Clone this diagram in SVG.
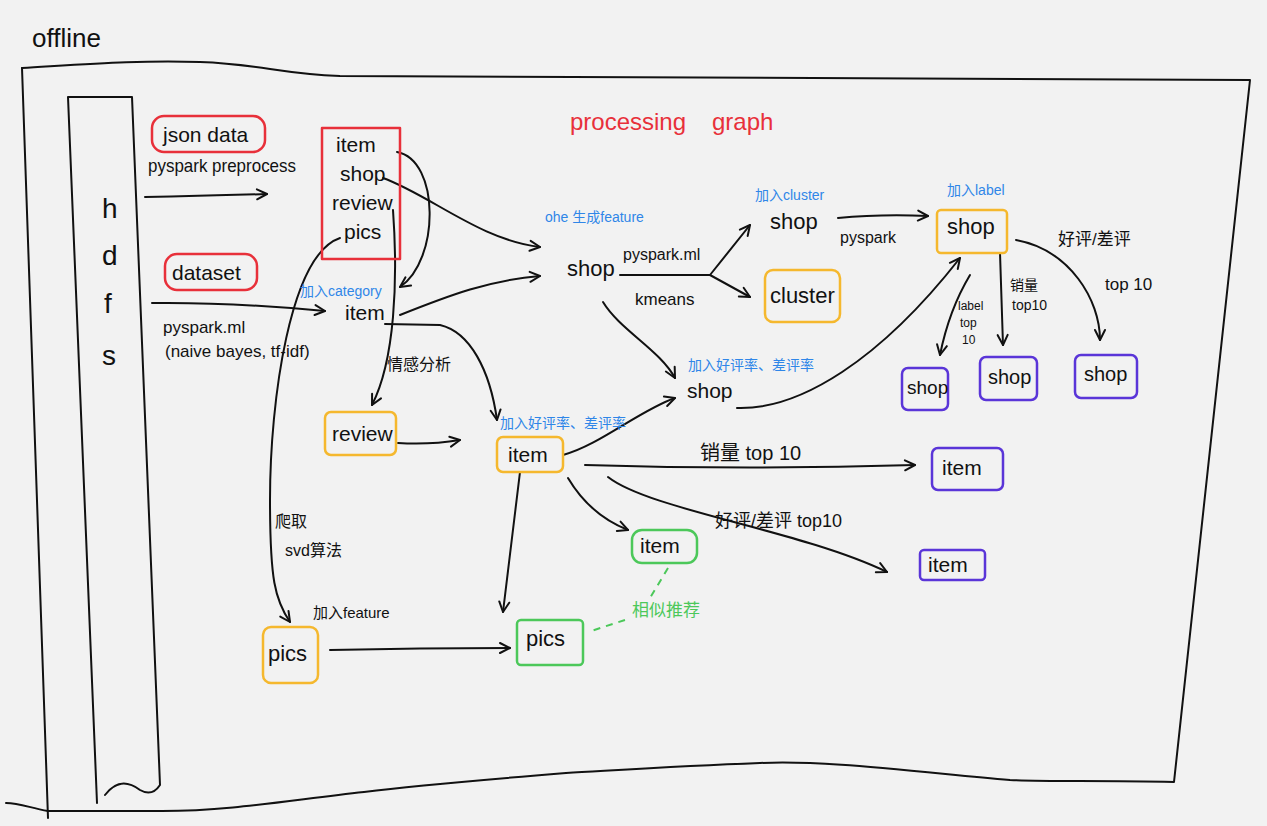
<svg xmlns="http://www.w3.org/2000/svg" width="1267" height="826" viewBox="0 0 1267 826">
<defs>
<marker id="arr" markerUnits="userSpaceOnUse" markerWidth="14" markerHeight="14" viewBox="0 0 14 14" refX="12" refY="7" orient="auto">
<path d="M2,2 L12,7 L2,12" fill="none" stroke="#111" stroke-width="2" stroke-linecap="round" stroke-linejoin="round"/>
</marker>
</defs>
<style>
.bg{fill:#f2f2f2}
.ln{fill:none;stroke:#111;stroke-width:2;stroke-linecap:round;stroke-linejoin:round}
.ar{fill:none;stroke:#111;stroke-width:2;stroke-linecap:round;marker-end:url(#arr)}
.bx{fill:none;stroke-width:2.5;stroke-linejoin:round}
.red{stroke:#e8303a}.yel{stroke:#f5b82e}.grn{stroke:#4cc85a}.pur{stroke:#5a35d8}
.t{font-family:"Liberation Sans",Arial,sans-serif;fill:#111}
.n{font-size:21px}
.s{font-size:17px}
.xs{font-size:12px}
.bl{font-family:"Liberation Sans","Noto Sans CJK SC",sans-serif;fill:#2f86e8;font-size:14px}
.zh{font-family:"Liberation Sans","Noto Sans CJK SC",sans-serif;fill:#111}
.gz{font-family:"Noto Sans CJK SC",sans-serif;fill:#4cc85a;font-size:17px}
</style>
<rect class="bg" x="0" y="0" width="1267" height="826"/>

<g id="frame">
<path class="ln" d="M22,68 C90,64 140,60 200,62 C260,64 280,74 340,76 C600,80 900,76 1250,80 L1174,782 C1100,780 1050,782 1010,780 C900,770 820,760 760,763 C680,766 620,770 566,773 C480,780 420,785 364,792 C290,800 230,811 162,811 L48,811 C30,808 20,803 6,803"/>
<path class="ln" d="M22,68 L48,818"/>
<text class="t" x="32" y="47" font-size="26">offline</text>
</g>

<g id="hdfs">
<path class="ln" d="M68,97 L132,97 M68,97 L97,803 M132,97 L160,785 M105,795 Q120,775 140,790 Q152,797 160,785"/>
<text class="t" x="102" y="218" font-size="28">h</text>
<text class="t" x="102" y="265" font-size="28">d</text>
<text class="t" x="104" y="313" font-size="28">f</text>
<text class="t" x="102" y="365" font-size="28">s</text>
</g>

<g id="title">
<text x="570" y="130" font-family="Liberation Sans,Arial,sans-serif" font-size="24" fill="#e8303a">processing</text>
<text x="712" y="130" font-family="Liberation Sans,Arial,sans-serif" font-size="24" fill="#e8303a">graph</text>
</g>

<g id="connectors">
<path class="ar" d="M145,197 Q200,196 267,194"/>
<path class="ar" d="M152,303 Q230,302 325,311"/>
<path class="ar" d="M397,152 C440,160 440,260 400,287"/>
<path class="ar" d="M383,178 C430,195 480,240 540,247"/>
<path class="ar" d="M393,210 C398,280 395,360 372,405"/>
<path class="ar" d="M340,238 C290,255 270,400 270,500 C270,580 275,600 290,622"/>
<path class="ar" d="M400,315 C450,295 490,280 540,276"/>
<path class="ar" d="M385,324 L440,325 C470,332 490,370 497,420"/>
<path class="ar" d="M398,443 Q430,445 460,440"/>
<path class="ar" d="M563,455 C600,445 640,410 675,398"/>
<path class="ar" d="M603,302 C620,330 660,350 675,378"/>
<path class="ln" d="M620,275 L710,275"/>
<path class="ar" d="M710,275 L750,225"/>
<path class="ar" d="M710,275 L750,297"/>
<path class="ar" d="M838,218 Q880,214 928,216"/>
<path class="ar" d="M737,408 C800,410 880,360 960,258"/>
<path class="ar" d="M970,275 C955,300 945,330 940,355"/>
<path class="ar" d="M1000,253 L1003,345"/>
<path class="ar" d="M1016,240 C1070,250 1100,300 1100,340"/>
<path class="ar" d="M585,465 Q750,470 915,465"/>
<path class="ar" d="M608,477 C650,510 800,530 887,572"/>
<path class="ar" d="M568,478 Q590,515 628,530"/>
<path class="ar" d="M520,472 Q512,540 503,612"/>
<path class="ar" d="M330,650 Q420,648 510,648"/>
<path d="M668,568 L650,598 M625,620 L588,632" fill="none" stroke="#4cc85a" stroke-width="2" stroke-dasharray="7,6"/>
</g>

<g id="json">
<rect class="bx red" x="152" y="116" width="113" height="36" rx="12"/>
<text class="t n" x="163" y="142">json data</text>
</g>
<text class="t" x="148" y="172" font-size="19" textLength="148" lengthAdjust="spacingAndGlyphs">pyspark preprocess</text>

<g id="dataset">
<rect class="bx red" x="165" y="254" width="92" height="36" rx="12"/>
<text class="t n" x="172" y="280">dataset</text>
</g>
<text class="t s" x="163" y="333">pyspark.ml</text>
<text class="t s" x="165" y="357">(naive bayes, tf-idf)</text>

<g id="tables">
<rect class="bx red" x="322" y="128" width="78" height="131"/>
<text class="t n" x="336" y="152">item</text>
<text class="t n" x="340" y="181">shop</text>
<text class="t n" x="332" y="210">review</text>
<text class="t n" x="344" y="239">pics</text>
</g>

<g id="cat_item">
<text class="bl" x="300" y="296">加入category</text>
<text class="t n" x="345" y="320">item</text>
</g>
<text class="zh" x="387" y="370" font-size="16">情感分析</text>

<g id="review">
<rect class="bx yel" x="325" y="412" width="71" height="43" rx="6"/>
<text class="t n" x="332" y="441">review</text>
</g>
<text class="zh" x="275" y="527" font-size="16">爬取</text>
<text class="zh" x="285" y="556" font-size="16">svd算法</text>

<g id="pics_y">
<text class="zh" x="313" y="618" font-size="15">加入feature</text>
<rect class="bx yel" x="263" y="627" width="55" height="56" rx="8"/>
<text class="t" x="268" y="661" font-size="22">pics</text>
</g>

<g id="pics_g">
<rect class="bx grn" x="517" y="620" width="66" height="45" rx="4"/>
<text class="t" x="526" y="646" font-size="22">pics</text>
</g>
<text class="gz" x="632" y="616">相似推荐</text>

<g id="item_c">
<text class="bl" x="500" y="428" font-size="12">加入好评率、差评率</text>
<rect class="bx yel" x="497" y="437" width="66" height="35" rx="6"/>
<text class="t n" x="508" y="462">item</text>
</g>

<g id="shop_low">
<text class="bl" x="688" y="370">加入好评率、差评率</text>
<text class="t n" x="687" y="398">shop</text>
</g>

<g id="shop_c">
<text class="bl" x="545" y="222" font-size="15">ohe 生成feature</text>
<text class="t" x="567" y="276" font-size="22">shop</text>
</g>
<text class="t" x="623" y="260" font-size="16">pyspark.ml</text>
<text class="t s" x="635" y="305">kmeans</text>

<g id="shop_cl">
<text class="bl" x="755" y="200">加入cluster</text>
<text class="t" x="770" y="229" font-size="22">shop</text>
</g>

<g id="cluster">
<rect class="bx yel" x="765" y="270" width="75" height="52" rx="8"/>
<text class="t" x="770" y="303" font-size="22">cluster</text>
</g>
<text class="t" x="840" y="243" font-size="16">pyspark</text>

<g id="shop_lb">
<text class="bl" x="947" y="195" font-size="15">加入label</text>
<rect class="bx yel" x="937" y="210" width="70" height="43" rx="4"/>
<text class="t" x="947" y="234" font-size="22">shop</text>
</g>
<text class="t xs" x="958" y="310">label</text>
<text class="t xs" x="960" y="327">top</text>
<text class="t xs" x="962" y="344">10</text>
<text class="zh" x="1010" y="290" font-size="14">销量</text>
<text class="zh" x="1012" y="310" font-size="14">top10</text>
<text class="zh" x="1058" y="245" font-size="17">好评/差评</text>
<text class="zh" x="1105" y="290" font-size="17">top 10</text>

<g id="shop_p1">
<rect class="bx pur" x="902" y="368" width="46" height="42" rx="6"/>
<text class="t" x="907" y="394" font-size="19">shop</text>
</g>
<g id="shop_p2">
<rect class="bx pur" x="980" y="357" width="57" height="43" rx="6"/>
<text class="t" x="988" y="384" font-size="20">shop</text>
</g>
<g id="shop_p3">
<rect class="bx pur" x="1075" y="355" width="62" height="43" rx="6"/>
<text class="t" x="1084" y="381" font-size="20">shop</text>
</g>

<text class="zh" x="700" y="460" font-size="20">销量 top 10</text>
<g id="item_p1">
<rect class="bx pur" x="932" y="448" width="71" height="42" rx="6"/>
<text class="t n" x="942" y="475">item</text>
</g>
<text class="zh" x="715" y="527" font-size="18">好评/差评 top10</text>
<g id="item_p2">
<rect class="bx pur" x="920" y="550" width="65" height="30" rx="4"/>
<text class="t n" x="928" y="572">item</text>
</g>

<g id="item_g">
<rect class="bx grn" x="632" y="530" width="65" height="33" rx="10"/>
<text class="t n" x="640" y="553">item</text>
</g>
</svg>
